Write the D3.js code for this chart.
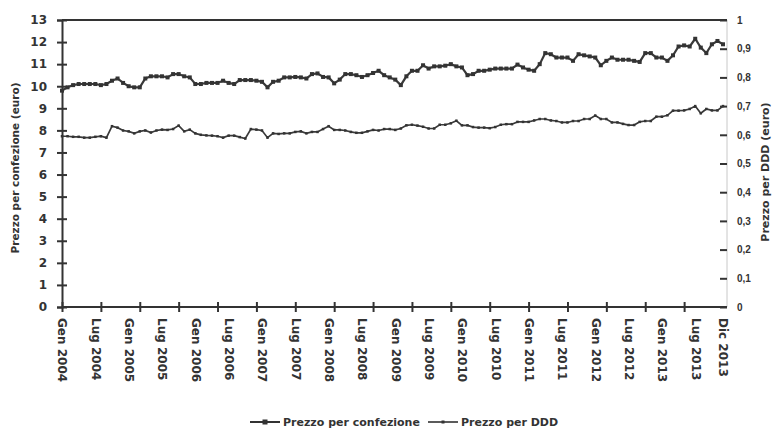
<!DOCTYPE html>
<html><head><meta charset="utf-8">
<script src="https://cdn.jsdelivr.net/npm/d3@7"></script>
<style>
body{margin:0;background:#fff;}
svg{display:block;}
text{font-family:"DejaVu Sans",sans-serif;font-weight:bold;fill:#333;}
</style></head>
<body>
<svg id="c" width="774" height="431"></svg>
<script>
const monthLabels = ["Gen 2004","Lug 2004","Gen 2005","Lug 2005","Gen 2006","Lug 2006","Gen 2007","Lug 2007","Gen 2008","Lug 2008","Gen 2009","Lug 2009","Gen 2010","Lug 2010","Gen 2011","Lug 2011","Gen 2012","Lug 2012","Gen 2013","Lug 2013","Dic 2013"];
const labelMonths = [0,6,12,18,24,30,36,42,48,54,60,66,72,78,84,90,96,102,108,114,119];
const leftTicks = [0,1,2,3,4,5,6,7,8,9,10,11,12,13];
const rightTicks = [0,0.1,0.2,0.3,0.4,0.5,0.6,0.7,0.8,0.9,1];
const rightTickLabels = ["0","0,1","0,2","0,3","0,4","0,5","0,6","0,7","0,8","0,9","1"];
const seriesNames = ["Prezzo per confezione","Prezzo per DDD"];
const prezzoConfezione = [
 9.8, 9.95, 10.05, 10.1, 10.1, 10.1, 10.1, 10.05, 10.1, 10.25, 10.35, 10.15, 10.0, 9.95, 9.95, 10.35, 10.45, 10.45, 10.45, 10.4, 10.55, 10.55, 10.45, 10.4, 10.1, 10.1, 10.15, 10.15, 10.15, 10.25,
 10.15, 10.1, 10.28, 10.28, 10.28, 10.25, 10.2, 9.95, 10.2, 10.25, 10.4, 10.4, 10.42, 10.4, 10.35, 10.55, 10.58, 10.42, 10.4, 10.13, 10.3, 10.55, 10.55, 10.5, 10.42, 10.5, 10.6, 10.7, 10.5, 10.4,
 10.3, 10.05, 10.45, 10.7, 10.7, 10.95, 10.8, 10.9, 10.9, 10.93, 11.0, 10.9, 10.85, 10.5, 10.55, 10.7, 10.7, 10.75, 10.8, 10.8, 10.8, 10.8, 10.98, 10.85, 10.75, 10.7, 11.0, 11.5, 11.45, 11.3,
 11.3, 11.3, 11.15, 11.45, 11.4, 11.35, 11.3, 10.95, 11.15, 11.3, 11.2, 11.2, 11.2, 11.15, 11.1, 11.5, 11.5, 11.3, 11.3, 11.15, 11.4, 11.8, 11.85, 11.8, 12.15, 11.75, 11.5, 11.9, 12.05, 11.9
];
const prezzoDDD = [
 0.595, 0.595, 0.593, 0.593, 0.59, 0.59, 0.593, 0.595, 0.59, 0.63, 0.625, 0.615, 0.612, 0.605, 0.612, 0.615, 0.608, 0.615, 0.618, 0.617, 0.62, 0.632, 0.612, 0.618, 0.605, 0.6, 0.598, 0.597, 0.595, 0.59,
 0.597, 0.597, 0.592, 0.587, 0.62, 0.618, 0.615, 0.59, 0.605, 0.603, 0.605, 0.605, 0.61, 0.612, 0.605, 0.61, 0.61, 0.62, 0.63, 0.617, 0.617, 0.615, 0.61, 0.607, 0.607, 0.612, 0.617, 0.615, 0.62, 0.62,
 0.617, 0.622, 0.633, 0.635, 0.632, 0.628, 0.622, 0.622, 0.635, 0.635, 0.64, 0.649, 0.633, 0.633, 0.627, 0.625, 0.625, 0.623, 0.627, 0.635, 0.637, 0.637, 0.645, 0.645, 0.645, 0.65, 0.655, 0.655, 0.65, 0.648,
 0.643, 0.643, 0.648, 0.648, 0.655, 0.655, 0.667, 0.655, 0.655, 0.643, 0.643, 0.638, 0.634, 0.634, 0.645, 0.648, 0.648, 0.663, 0.663, 0.668, 0.684, 0.684, 0.685, 0.69, 0.70, 0.675, 0.69, 0.685, 0.685, 0.70
];

const svg = d3.select("#c");
const L = 62, R = 723, T = 20, B = 307, AXR = 727;
const x = d3.scaleLinear().domain([0, 119]).range([L, R]);
const yL = d3.scaleLinear().domain([0, 13]).range([B, T]);
const yR = d3.scaleLinear().domain([0, 1]).range([B, T]);
const ink = "#333";

// top border and right border
svg.append("line").attr("x1", L).attr("x2", AXR).attr("y1", T).attr("y2", T).attr("stroke", ink).attr("stroke-width", 2);
svg.append("line").attr("x1", AXR).attr("x2", AXR).attr("y1", T).attr("y2", B).attr("stroke", "#c8c8c8").attr("stroke-width", 1);

// left axis
const gL = svg.append("g").attr("transform", `translate(${L},0)`)
  .call(d3.axisLeft(yL).tickValues(leftTicks).tickSize(5).tickPadding(10));
gL.select(".domain").attr("stroke", ink).attr("stroke-width", 2);
gL.selectAll(".tick line").attr("x1", -5).attr("x2", 5).attr("stroke", ink).attr("stroke-width", 2);
gL.selectAll(".tick text").attr("font-size", 12).style("font-family", "DejaVu Sans").style("font-weight", "bold").attr("fill", ink);

// right axis
const gR = svg.append("g").attr("transform", `translate(${AXR},0)`)
  .call(d3.axisRight(yR).tickValues(rightTicks).tickFormat((d, i) => rightTickLabels[i]).tickSize(0).tickPadding(10));
gR.select(".domain").remove();
gR.selectAll(".tick line").attr("x1", -7).attr("x2", 0).attr("stroke", ink).attr("stroke-width", 2);
gR.selectAll(".tick text").attr("font-size", 10).style("font-family", "Liberation Sans").style("font-weight", "bold").attr("fill", ink);

// bottom axis: ticks every 7 months
const tickMonths = d3.range(0, 113, 7);
const gB = svg.append("g").attr("transform", `translate(0,${B})`)
  .call(d3.axisBottom(x).tickValues(tickMonths).tickSize(5).tickFormat(""));
gB.select(".domain").attr("d", `M${L},0H${AXR}`).attr("stroke", ink).attr("stroke-width", 2);
gB.selectAll(".tick line").attr("y1", -5).attr("y2", 5).attr("stroke", ink).attr("stroke-width", 2);

// bottom labels
const gBL = svg.append("g").attr("transform", `translate(0,${B})`)
  .call(d3.axisBottom(x).tickValues(labelMonths).tickSize(0).tickFormat((d, i) => monthLabels[i]));
gBL.select(".domain").remove();
gBL.selectAll(".tick text")
  .attr("transform", "rotate(90)")
  .attr("x", 11).attr("y", 0).attr("dy", "0.35em")
  .style("text-anchor", "start")
  .attr("font-size", 12).style("font-family", "DejaVu Sans").style("font-weight", "bold").attr("fill", ink);

// lines
const lineC = d3.line().x((d, i) => x(i)).y(d => yL(d));
const lineD = d3.line().x((d, i) => x(i)).y(d => yR(d));
svg.append("path").datum(prezzoConfezione).attr("d", lineC).attr("fill", "none").attr("stroke", "#3a3a3a").attr("stroke-width", 2.2);
svg.append("g").selectAll("rect").data(prezzoConfezione).join("rect")
  .attr("x", (d, i) => x(i) - 2).attr("y", d => yL(d) - 2).attr("width", 4).attr("height", 4).attr("fill", "#333");
svg.append("path").datum(prezzoDDD).attr("d", lineD).attr("fill", "none").attr("stroke", "#3a3a3a").attr("stroke-width", 1.7);
svg.append("g").selectAll("rect").data(prezzoDDD).join("rect")
  .attr("x", (d, i) => x(i) - 1.25).attr("y", d => yR(d) - 1.25).attr("width", 2.5).attr("height", 2.5).attr("fill", "#333");

// axis titles
svg.append("text").attr("transform", "translate(19,168) rotate(-90)")
  .attr("text-anchor", "middle").attr("font-size", 10.5).text("Prezzo per confezione (euro)");
svg.append("text").attr("transform", "translate(769,172) rotate(-90)")
  .attr("text-anchor", "middle").attr("font-size", 11).text("Prezzo per DDD (euro)");

// legend
const lg = svg.append("g").attr("transform", "translate(0,422)");
const legendX = [250, 428];
seriesNames.forEach((n, i) => {
  const g = lg.append("g").attr("transform", `translate(${legendX[i]},0)`);
  g.append("line").attr("x1", 0).attr("x2", 30).attr("stroke", "#333").attr("stroke-width", i === 0 ? 2 : 1.6);
  const s = i === 0 ? 5 : 3;
  g.append("rect").attr("x", 15 - s / 2).attr("y", -s / 2).attr("width", s).attr("height", s).attr("fill", "#333");
  g.append("text").attr("x", 33).attr("dy", "0.35em").attr("font-size", 11).text(n);
});
</script>
</body></html>
